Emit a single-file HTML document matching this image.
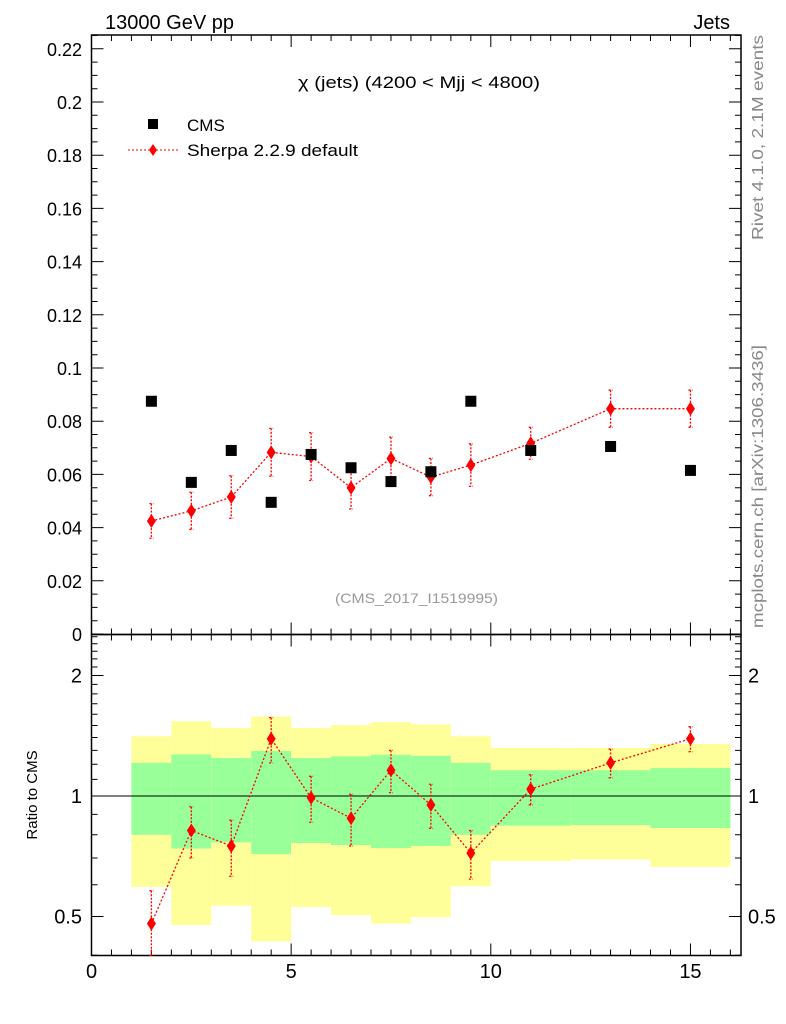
<!DOCTYPE html>
<html><head><meta charset="utf-8"><style>
html,body{margin:0;padding:0;background:#fff;}
svg{display:block;font-family:"Liberation Sans",sans-serif;}
</style></head><body>
<svg id="c" width="786" height="1024" xmlns="http://www.w3.org/2000/svg">
<text x="105" y="29" font-size="20">13000 GeV pp</text>
<text x="730" y="29" font-size="20" text-anchor="end">Jets</text>
<text x="298" y="88" font-size="17" textLength="242" lengthAdjust="spacingAndGlyphs">χ (jets) (4200 &lt; Mjj &lt; 4800)</text>
<text x="335" y="603" font-size="14" fill="#999" textLength="163" lengthAdjust="spacingAndGlyphs">(CMS_2017_I1519995)</text>
<text transform="translate(763,240) rotate(-90)" font-size="16" fill="#888" textLength="205" lengthAdjust="spacingAndGlyphs">Rivet 4.1.0,  2.1M events</text>
<text transform="translate(763,628) rotate(-90)" font-size="16" fill="#888" textLength="283" lengthAdjust="spacingAndGlyphs">mcplots.cern.ch [arXiv:1306.3436]</text>
<text transform="translate(37,795) rotate(-90)" font-size="15" text-anchor="middle">Ratio to CMS</text>
<g>
<rect x="148" y="119" width="10" height="10" fill="#000"/>
<text x="187" y="131" font-size="17">CMS</text>
<line x1="128" y1="150" x2="178" y2="150" stroke="red" stroke-dasharray="2,2"/>
<path d="M153,144 L157,150 L153,156 L149,150 Z" fill="red"/>
<text x="187" y="156" font-size="17" textLength="171" lengthAdjust="spacingAndGlyphs">Sherpa 2.2.9 default</text>
</g>
</svg>
<script>
const xs=[1.5,2.5,3.5,4.5,5.5,6.5,7.5,8.5,9.5,11,13,15];
const cmsVals=[0.0875,0.057,0.069,0.0495,0.0675,0.0625,0.0573,0.061,0.0875,0.069,0.0705,0.0615];
const sherpaVals=[0.0425,0.0463,0.0515,0.0683,0.0667,0.055,0.066,0.059,0.0635,0.0717,0.0847,0.0847];
const sherpaErr=[0.0065,0.007,0.008,0.009,0.009,0.008,0.008,0.007,0.008,0.006,0.007,0.007];
const ratioVals=[0.48,0.82,0.75,1.39,0.99,0.88,1.16,0.95,0.72,1.04,1.21,1.39];
const ratioErr=[0.1,0.12,0.12,0.18,0.13,0.13,0.14,0.12,0.1,0.09,0.1,0.1];
const binEdges=[1,2,3,4,5,6,7,8,9,10,12,14,16];
const yellowHi=[1.41,1.537,1.48,1.58,1.48,1.504,1.53,1.51,1.41,1.318,1.318,1.349];
const yellowLo=[0.593,0.476,0.532,0.433,0.528,0.504,0.48,0.498,0.595,0.688,0.694,0.665];
const greenHi=[1.21,1.27,1.244,1.295,1.244,1.256,1.268,1.26,1.21,1.16,1.16,1.175];
const greenLo=[0.80,0.739,0.766,0.716,0.763,0.754,0.741,0.75,0.80,0.843,0.846,0.832];
const yTicks=[0,0.02,0.04,0.06,0.08,0.1,0.12,0.14,0.16,0.18,0.2,0.22];
const yTickLabels=["0","0.02","0.04","0.06","0.08","0.1","0.12","0.14","0.16","0.18","0.2","0.22"];
const xTicks=[0,5,10,15];
const rTicks=[0.5,1,2];
const rTickLabels=["0.5","1","2"];

const L=91.5,R=741,T=35,MB=634.5,RB=955.5;
const X=v=>L+v*39.93;
const Y=v=>634-v*2660;
const RY=v=>796-120.5*Math.log2(v);
const svg=document.getElementById('c');
const NS='http://www.w3.org/2000/svg';
function mk(tag,at,parent){const e=document.createElementNS(NS,tag);for(const k in at)e.setAttribute(k,at[k]);(parent||svg).appendChild(e);return e;}

for(let i=0;i<yellowHi.length;i++){
 const x1=X(binEdges[i]),x2=X(binEdges[i+1]);
 const y=mk('rect',{x:x1,y:RY(yellowHi[i]),width:x2-x1,height:RY(yellowLo[i])-RY(yellowHi[i]),fill:'#ffff99'});
 
 
 const g=mk('rect',{x:x1,y:RY(greenHi[i]),width:x2-x1,height:RY(greenLo[i])-RY(greenHi[i]),fill:'#99ff99'});
 
 
}
const one=mk('line',{x1:L,x2:R,y1:RY(1),y2:RY(1),stroke:'#000','stroke-width':1});



const f1=mk('rect',{x:L,y:T,width:R-L,height:MB-T,fill:'none',stroke:'#000','stroke-width':1.5});


const f2=mk('rect',{x:L,y:MB,width:R-L,height:RB-MB,fill:'none',stroke:'#000','stroke-width':1.5});



let tp='';
for(let v=0;v<=16.01;v+=0.5){
 const x=X(v),maj=(Math.abs(v%5)<1e-6),len=maj?12:6;
 tp+=`M${x},${MB}v${-len}M${x},${T}v${len}M${x},${MB}v${len}M${x},${RB}v${-len}`;
}
for(let v=0;v<=0.2251;v+=0.005){
 const y=Y(v),maj=Math.abs((v/0.02)-Math.round(v/0.02))<1e-6,len=maj?12:6;
 if(y<T)continue;
 tp+=`M${L},${y}h${len}M${R},${y}h${-len}`;
}
for(let v=0.4;v<=2.55;v+=0.1){
 const y=RY(v);if(y<MB||y>RB)continue;
 const maj=[0.5,1,2].some(m=>Math.abs(m-v)<1e-6),len=maj?12:6;
 tp+=`M${L},${y}h${len}M${R},${y}h${-len}`;
}
const tk=mk('path',{d:tp,stroke:'#000','stroke-width':1,fill:'none'});



yTicks.forEach((v,i)=>{
 const t=mk('text',{x:82,y:Y(v)+7,'font-size':18,'text-anchor':'end'});t.textContent=yTickLabels[i];
 
 
});
xTicks.forEach(v=>{
 const t=mk('text',{x:X(v),y:978,'font-size':20,'text-anchor':'middle'});t.textContent=v;
 
 
});
rTicks.forEach((v,i)=>{
 const t=mk('text',{x:82,y:RY(v)+7,'font-size':20,'text-anchor':'end'});t.textContent=rTickLabels[i];
 
 
 const t2=mk('text',{x:748,y:RY(v)+7,'font-size':20});t2.textContent=rTickLabels[i];
 
 
});

function series(vals,errs,Yf,minV,name){
 const pts=xs.map((x,i)=>X(x)+','+Yf(vals[i])).join(' ');
 const pl=mk('polyline',{points:pts,fill:'none',stroke:'red','stroke-width':1.3,'stroke-dasharray':'2,2'});
 
 
 xs.forEach((x,i)=>{
  const cx=X(x),cy=Yf(vals[i]),y1=Yf(vals[i]+errs[i]),y2=Yf(Math.max(vals[i]-errs[i],minV));
  const e=mk('path',{d:`M${cx},${y1}V${y2}M${cx-2},${y1}h4M${cx-2},${y2}h4`,stroke:'red','stroke-width':1.3,'stroke-dasharray':'2,1.5',fill:'none'});
  
  
  const d=mk('path',{d:`M${cx},${cy-7}L${cx+4.5},${cy}L${cx},${cy+7}L${cx-4.5},${cy}Z`,fill:'red'});
  
  
 });
}
series(ratioVals,ratioErr,RY,0.4,'ratio-sherpa');
series(sherpaVals,sherpaErr,Y,0,'sherpa');
xs.forEach((x,i)=>{
 const r=mk('rect',{x:X(x)-5.5,y:Y(cmsVals[i])-5.5,width:11,height:11,fill:'#000'});
 
 
});
</script>
</body></html>
